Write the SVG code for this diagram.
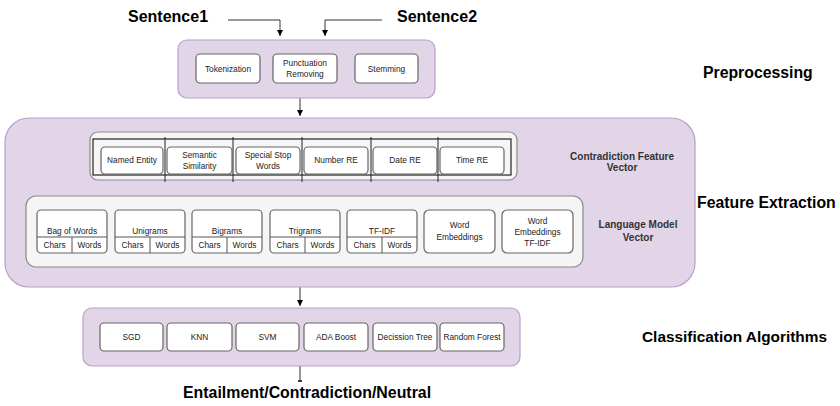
<svg xmlns="http://www.w3.org/2000/svg" width="840" height="406" viewBox="0 0 840 406">
<defs>
<marker id="ah" markerWidth="8" markerHeight="8" refX="6" refY="4" orient="auto" markerUnits="userSpaceOnUse">
<path d="M0,1 L6,4 L0,7 Z" fill="#000"/>
</marker>
<style>
.grp{fill:#e1d5e7;stroke:#b9a0c8;stroke-width:1.2}
.gray{fill:#f5f5f5;stroke:#8a8a8a;stroke-width:1.2}
.box{fill:#fff;stroke:#666;stroke-width:1.2}
.ln{stroke:#555;stroke-width:1;fill:none}
.t{font-family:"Liberation Sans",Arial,sans-serif;font-size:8.3px;fill:#222;text-anchor:middle}
.lbl{font-family:"Liberation Sans",Arial,sans-serif;font-size:10px;font-weight:bold;fill:#333;text-anchor:middle}
.big{font-family:"Liberation Sans",Arial,sans-serif;font-weight:bold;fill:#000}
.con{stroke:#333;stroke-width:1;fill:none}
</style>
</defs>
<rect width="840" height="406" fill="#fff"/>

<g id="connectors">
<path class="con" d="M228,20 H280 V36" marker-end="url(#ah)"/>
<path class="con" d="M382,20 H325 V36" marker-end="url(#ah)"/>
<path class="con" d="M300,98 V116" marker-end="url(#ah)"/>
<path class="con" d="M300,287 V306" marker-end="url(#ah)"/>
<path class="con" d="M300,366 V381"/>
<path d="M298,381 H302" stroke="#000" stroke-width="1.5"/>
</g>

<g id="sentence1"><text class="big" x="128" y="22" font-size="16">Sentence1</text></g>
<g id="sentence2"><text class="big" x="397" y="22" font-size="16">Sentence2</text></g>

<g id="preprocessing">
<rect class="grp" x="178" y="40" width="257" height="58" rx="9"/>
<rect class="box" x="196" y="54" width="64" height="29" rx="4"/>
<text class="t" x="228" y="71.5">Tokenization</text>
<rect class="box" x="273" y="54" width="64" height="29" rx="4"/>
<text class="t" x="305" y="66">Punctuation</text>
<text class="t" x="305" y="77">Removing</text>
<rect class="box" x="355" y="54" width="63" height="29" rx="4"/>
<text class="t" x="386.5" y="71.5">Stemming</text>
</g>
<g id="label-preprocessing"><text class="big" x="703" y="78" font-size="15.8">Preprocessing</text></g>

<g id="feature-extraction">
<rect class="grp" x="5" y="118" width="690" height="169" rx="24"/>
</g>

<g id="contradiction-vector">
<rect class="gray" x="90" y="132" width="427" height="48" rx="8"/>
<rect x="93" y="139" width="418" height="36" fill="none" stroke="#222" stroke-width="1.2"/>
<g stroke="#222" stroke-width="1">
<line x1="165" y1="137" x2="165" y2="182"/>
<line x1="233" y1="137" x2="233" y2="182"/>
<line x1="302" y1="137" x2="302" y2="182"/>
<line x1="371" y1="137" x2="371" y2="182"/>
<line x1="438" y1="137" x2="438" y2="182"/>
</g>
<rect class="box" x="101" y="147" width="62" height="27" rx="4"/>
<text class="t" x="132" y="163">Named Entity</text>
<rect class="box" x="167" y="147" width="65" height="27" rx="4"/>
<text class="t" x="199.5" y="158">Semantic</text>
<text class="t" x="199.5" y="169">Similarity</text>
<rect class="box" x="236" y="147" width="64" height="27" rx="4"/>
<text class="t" x="268" y="158">Special Stop</text>
<text class="t" x="268" y="169">Words</text>
<rect class="box" x="304" y="147" width="64" height="27" rx="4"/>
<text class="t" x="336" y="163">Number RE</text>
<rect class="box" x="373" y="147" width="64" height="27" rx="4"/>
<text class="t" x="405" y="163">Date RE</text>
<rect class="box" x="440" y="147" width="64" height="27" rx="4"/>
<text class="t" x="472" y="163">Time RE</text>
</g>
<g id="label-contradiction">
<text class="lbl" x="622" y="160">Contradiction Feature</text>
<text class="lbl" x="622" y="171">Vector</text>
</g>

<g id="language-model-vector">
<rect class="gray" x="26" y="196" width="557" height="71" rx="10"/>
<g id="bow">
<rect class="box" x="37" y="210" width="70" height="43" rx="4"/>
<line class="ln" x1="37" y1="237" x2="107" y2="237"/><line class="ln" x1="72" y1="237" x2="72" y2="253"/>
<text class="t" x="72" y="234">Bag of Words</text>
<text class="t" x="54.5" y="248">Chars</text><text class="t" x="89.5" y="248">Words</text>
</g>
<g id="unigrams">
<rect class="box" x="115" y="210" width="70" height="43" rx="4"/>
<line class="ln" x1="115" y1="237" x2="185" y2="237"/><line class="ln" x1="150" y1="237" x2="150" y2="253"/>
<text class="t" x="150" y="234">Unigrams</text>
<text class="t" x="132.5" y="248">Chars</text><text class="t" x="167.5" y="248">Words</text>
</g>
<g id="bigrams">
<rect class="box" x="192" y="210" width="70" height="43" rx="4"/>
<line class="ln" x1="192" y1="237" x2="262" y2="237"/><line class="ln" x1="227" y1="237" x2="227" y2="253"/>
<text class="t" x="227" y="234">Bigrams</text>
<text class="t" x="209.5" y="248">Chars</text><text class="t" x="244.5" y="248">Words</text>
</g>
<g id="trigrams">
<rect class="box" x="270" y="210" width="70" height="43" rx="4"/>
<line class="ln" x1="270" y1="237" x2="340" y2="237"/><line class="ln" x1="305" y1="237" x2="305" y2="253"/>
<text class="t" x="305" y="234">Trigrams</text>
<text class="t" x="287.5" y="248">Chars</text><text class="t" x="322.5" y="248">Words</text>
</g>
<g id="tfidf">
<rect class="box" x="347" y="210" width="70" height="43" rx="4"/>
<line class="ln" x1="347" y1="237" x2="417" y2="237"/><line class="ln" x1="382" y1="237" x2="382" y2="253"/>
<text class="t" x="382" y="234">TF-IDF</text>
<text class="t" x="364.5" y="248">Chars</text><text class="t" x="399.5" y="248">Words</text>
</g>
<g id="word-embeddings">
<rect class="box" x="424" y="210" width="71" height="43" rx="5"/>
<text class="t" x="459.5" y="228">Word</text>
<text class="t" x="459.5" y="239.5">Embeddings</text>
</g>
<g id="word-embeddings-tfidf">
<rect class="box" x="502" y="210" width="71" height="43" rx="5"/>
<text class="t" x="537.5" y="223.5">Word</text>
<text class="t" x="537.5" y="234.5">Embeddings</text>
<text class="t" x="537.5" y="245.5">TF-IDF</text>
</g>
</g>
<g id="label-language">
<text class="lbl" x="638" y="228">Language Model</text>
<text class="lbl" x="638" y="241">Vector</text>
</g>
<g id="label-feature"><text class="big" x="697" y="208" font-size="15.8">Feature Extraction</text></g>

<g id="classification">
<rect class="grp" x="83" y="308" width="437" height="58" rx="9"/>
<rect class="box" x="100" y="323" width="63" height="28" rx="4"/>
<text class="t" x="131.5" y="340">SGD</text>
<rect class="box" x="167" y="323" width="65" height="28" rx="4"/>
<text class="t" x="199.5" y="340">KNN</text>
<rect class="box" x="236" y="323" width="63" height="28" rx="4"/>
<text class="t" x="267.5" y="340">SVM</text>
<rect class="box" x="304" y="323" width="64" height="28" rx="4"/>
<text class="t" x="336" y="340">ADA Boost</text>
<rect class="box" x="373" y="323" width="64" height="28" rx="4"/>
<text class="t" x="405" y="340">Decission Tree</text>
<rect class="box" x="440" y="323" width="64" height="28" rx="4"/>
<text class="t" x="472" y="340">Random Forest</text>
</g>
<g id="label-classification"><text class="big" x="642" y="342" font-size="15.4">Classification Algorithms</text></g>

<g id="output"><text class="big" x="183" y="398" font-size="15.9">Entailment/Contradiction/Neutral</text></g>
</svg>
